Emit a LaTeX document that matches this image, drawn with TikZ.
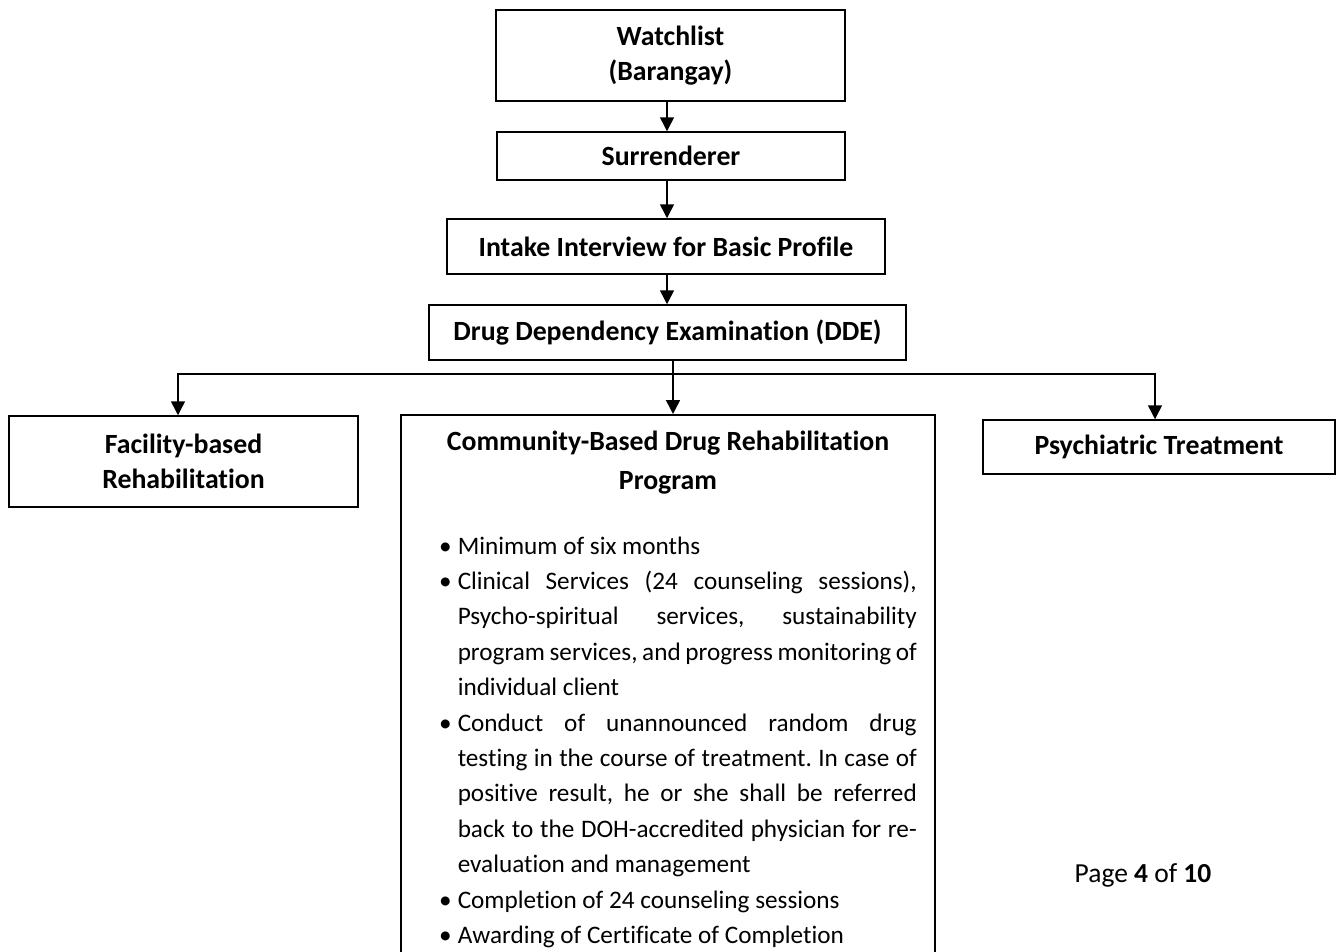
\documentclass[tikz,border=0pt]{standalone}
\usepackage{fontspec}
\setmainfont{Carlito}[Ligatures=NoCommon]
\usetikzlibrary{arrows.meta}

\newcommand{\bpoint}{\par\noindent\llap{\textbullet\hspace{6pt}}}

\begin{document}
\begin{tikzpicture}[x=1pt, y=-1pt, line width=1.5pt,
  every node/.append style={inner sep=0pt},
  box/.style={draw, rectangle, align=center, font=\fontsize{27.8}{35}\selectfont\bfseries},
  head/.style={align=center, font=\fontsize{27.8}{39}\selectfont\bfseries},
  body/.style={align=justify, text width=459, font=\fontsize{25.2}{35.4}\selectfont\frenchspacing},
  flow/.style={-{Triangle[width=14pt,length=14pt]}}]
  \useasboundingbox (0,0) rectangle (1339,951);
  \clip (0,0) rectangle (1339,951);
  \coordinate (split) at (673,374);
  \node[box, minimum width=349, minimum height=91] (watch) at (670.5,55.5) {Watchlist\\(Barangay)};
  \node[box, minimum width=348, minimum height=48] (surr) at (671,156) {Surrenderer};
  \node[box, minimum width=438, minimum height=55] (intake) at (666,246.5) {Intake Interview for Basic Profile};
  \node[box, minimum width=477, minimum height=55] (dde) at (667.5,332.5) {Drug Dependency Examination (DDE)};
  \node[box, minimum width=349, minimum height=91] (facility) at (183.5,461.5) {Facility-based\\Rehabilitation};
  \node[box, minimum width=352, minimum height=54] (psych) at (1159,447) {Psychiatric Treatment};
  \node[draw, rectangle, anchor=north, minimum width=534, minimum height=600] (cbdrp) at (668,414) {};
  \node[head] (cbtitle) at (668,462.5) {Community-Based Drug Rehabilitation\\Program};
  \node[body, anchor=north west] (cbitems) at (457,518) {%
    \bpoint Minimum of six months
    \bpoint Clinical Services (24 counseling sessions),\linebreak
      Psycho-spiritual services, sustainability\linebreak
      program services, and progress monitoring of\linebreak
      individual client
    \bpoint Conduct of unannounced random drug\linebreak
      testing in the course of treatment. In case of\linebreak
      positive result, he or she shall be referred\linebreak
      back to the DOH-accredited physician for re-\linebreak
      evaluation and management
    \bpoint Completion of 24 counseling sessions
    \bpoint Awarding of Certificate of Completion\par};
  \node[font=\fontsize{27.5}{30}\selectfont] (pagenum) at (1143,875) {Page \textbf{4} of \textbf{10}};
  \draw[flow] (watch.south -| split) ++(-6,0) coordinate (w1) -- (w1 |- surr.north);
  \draw[flow] (surr.south -| w1) -- (w1 |- intake.north);
  \draw[flow] (intake.south -| w1) -- (w1 |- dde.north);
  \draw (dde.south -| split) -- (split);
  \draw[flow] (split) -- (split |- cbdrp.north);
  \draw[flow] (split) -| ([xshift=-5.5]facility.north);
  \draw[flow] (split) -| ([xshift=-4]psych.north);
\end{tikzpicture}
\end{document}
